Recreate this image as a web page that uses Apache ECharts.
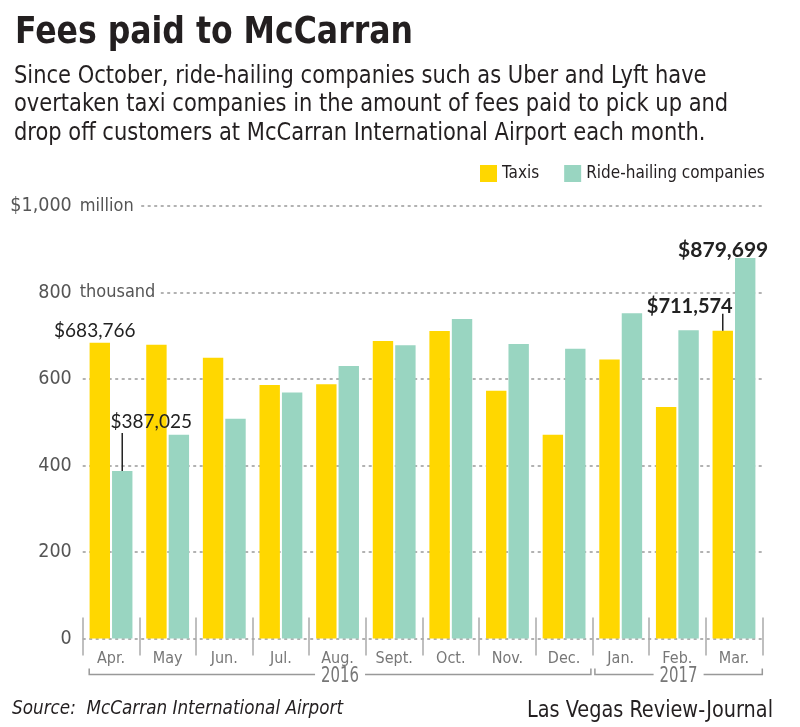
<!DOCTYPE html>
<html>
<head>
<meta charset="utf-8">
<script src="https://cdn.jsdelivr.net/npm/echarts@6/dist/echarts.min.js"></script>
<style>
  html, body { margin: 0; padding: 0; background: #fff; }
  #chart { width: 800px; height: 727px; }
</style>
</head>
<body>
<div id="chart"></div>
<script>
// ---- data ----
const months = ['Apr.', 'May', 'Jun.', 'Jul.', 'Aug.', 'Sept.', 'Oct.', 'Nov.', 'Dec.', 'Jan.', 'Feb.', 'Mar.'];
const years = ['2016', '2017'];
const yearMonthCounts = [9, 3];
const taxis = [683.766, 679, 649, 586, 588, 688, 711, 573, 471, 645, 535, 711.574];
const rideHailing = [387.025, 471, 508, 569, 630, 678, 739, 681, 670, 752, 713, 879.699];
const yTickLabels = { 0: '0', 200: '200', 400: '400', 600: '600', 800: '800', 1000: '$1,000' };
const yUnitLabels = { 800: 'thousand', 1000: 'million' };
const titleText = 'Fees paid to McCarran';
const subtitleLines = [
  'Since October, ride-hailing companies such as Uber and Lyft have',
  'overtaken taxi companies in the amount of fees paid to pick up and',
  'drop off customers at McCarran International Airport each month.'
];
const sourceText = 'Source:  McCarran International Airport';
const creditText = 'Las Vegas Review-Journal';

const COND = '"Liberation Sans Narrow", "DejaVu Sans Condensed", sans-serif';
const HUMAN = 'Lato, "Open Sans", sans-serif';
const YELLOW = '#FFD700';
const GREEN = '#99D5C1';
const INK = '#231f20';

function money(v) { return '$' + Math.round(v * 1000).toLocaleString('en-US'); }

// text width measuring (to condense the condensed face to the reference's widths)
const mctx = document.createElement('canvas').getContext('2d');
function textW(str, weight, style, size) {
  mctx.font = style + ' ' + weight + ' ' + size + 'px ' + COND;
  return mctx.measureText(str).width;
}
const titleScale = 398 / textW(titleText, 'bold', 'normal', 38);
const subTargets = [687, 707, 704];
const subScale = subtitleLines.reduce((s, l, i) => s + subTargets[i] / textW(l, 'normal', 'normal', 24), 0) / subtitleLines.length;
const sourceScale = 331 / textW(sourceText, 'normal', 'italic', 20);
const creditScale = 246 / textW(creditText, 'normal', 'normal', 23);
const yearScale = 38 / textW('2016', 'normal', 'normal', 21);

const taxiData = taxis.map(v => ({ value: v }));
const rideData = rideHailing.map(v => ({ value: v }));
taxiData[0].label = { show: true, position: 'top', distance: 2, offset: [-5, 0],
  formatter: () => money(taxis[0]), fontFamily: HUMAN, fontSize: 19, color: '#222' };
rideData[0].label = { show: true, position: 'top', distance: 40, offset: [29, 0],
  formatter: () => money(rideHailing[0]), fontFamily: HUMAN, fontSize: 19, color: '#222' };
taxiData[11].label = { show: true, position: 'top', distance: 14, offset: [-33, 0],
  formatter: () => money(taxis[11]), fontFamily: HUMAN, fontWeight: 'bold', fontSize: 20, color: '#222' };
rideData[11].label = { show: true, position: 'top', distance: -3, offset: [-22, 0],
  formatter: () => money(rideHailing[11]), fontFamily: HUMAN, fontWeight: 'bold', fontSize: 21, color: '#222' };

const chart = echarts.init(document.getElementById('chart'), null, { renderer: 'canvas' });

const option = {
  backgroundColor: '#fff',
  animation: false,
  legend: {
    left: 475, top: 160,
    itemWidth: 17, itemHeight: 17, itemGap: 25,
    icon: 'rect',
    textStyle: { fontFamily: COND, fontSize: 17, color: INK },
    data: ['Taxis', 'Ride-hailing companies']
  },
  grid: { left: 82.7, right: 37.7, top: 206, bottom: 88.5, containLabel: false },
  xAxis: [
    { type: 'category', data: months, position: 'bottom',
      axisLine: { show: false },
      axisTick: { show: true, alignWithLabel: false, length: 17, lineStyle: { color: '#aaa', width: 1.5 } },
      axisLabel: { fontFamily: COND, fontSize: 16, color: '#777', margin: 12 } },
    { type: 'category', data: months, position: 'bottom',
      axisLine: { show: false },
      axisTick: { show: true, inside: true, alignWithLabel: false, length: 21, lineStyle: { color: '#aaa', width: 1.5 } },
      axisLabel: { show: false } }
  ],
  yAxis: [
    { type: 'value', min: 0, max: 1000, interval: 200,
      axisLine: { show: false }, axisTick: { show: false },
      axisLabel: { margin: 11, fontFamily: COND, fontSize: 19.5, color: '#555',
        formatter: v => yTickLabels[v] !== undefined ? yTickLabels[v] : '' },
      splitLine: { show: true, lineStyle: { color: '#999', width: 1.5, type: [3, 3.5] } } },
    { type: 'value', min: 0, max: 1000, interval: 200, position: 'left', z: 3,
      axisLine: { show: false }, axisTick: { show: false }, splitLine: { show: false },
      axisLabel: { inside: true, margin: -6, fontFamily: COND, fontSize: 18, color: '#555',
        backgroundColor: '#fff', padding: [0, 5, 0, 3],
        formatter: v => yUnitLabels[v] || '' } }
  ],
  series: [
    { name: 'Taxis', type: 'bar', xAxisIndex: 0, yAxisIndex: 0, data: taxiData,
      barWidth: 20.4, barGap: '10%', itemStyle: { color: YELLOW } },
    { name: 'Ride-hailing companies', type: 'bar', xAxisIndex: 0, yAxisIndex: 0, data: rideData,
      barWidth: 20.4, barGap: '10%', itemStyle: { color: GREEN } }
  ]
};
chart.setOption(option);

function addGraphics() {
  const g = [];
  // headline texts
  g.push({ type: 'text', x: 15, y: 33, scaleX: titleScale,
    style: { text: titleText, fontFamily: COND, fontWeight: 'bold', fontSize: 38, fill: INK, verticalAlign: 'middle' } });
  g.push({ type: 'text', x: 14, y: 62.5, scaleX: subScale,
    style: { text: subtitleLines.join('\n'), fontFamily: COND, fontSize: 24, lineHeight: 28.5, fill: INK, verticalAlign: 'top' } });
  g.push({ type: 'text', x: 12, y: 709, scaleX: sourceScale,
    style: { text: sourceText, fontFamily: COND, fontStyle: 'italic', fontSize: 20, fill: INK, verticalAlign: 'middle' } });
  g.push({ type: 'text', x: 773, y: 711, scaleX: creditScale,
    style: { text: creditText, fontFamily: COND, fontSize: 23, fill: INK, align: 'right', verticalAlign: 'middle' } });

  // leader lines from the bar layouts
  const layoutOf = (si, di) => chart.getModel().getSeriesByIndex(si).getData().getItemLayout(di);
  const leader = (si, di, len) => {
    const l = layoutOf(si, di);
    const cx = l.x + l.width / 2;
    const top = l.y + Math.min(l.height, 0);
    g.push({ type: 'line', shape: { x1: cx, y1: top, x2: cx, y2: top - len },
      style: { stroke: '#222', lineWidth: 1.5 }, z: 10 });
  };
  leader(1, 0, 38);
  leader(0, 11, 17);

  // year brackets under the month axis
  const c0 = chart.convertToPixel({ xAxisIndex: 0 }, months[0]);
  const c1 = chart.convertToPixel({ xAxisIndex: 0 }, months[1]);
  const band = c1 - c0;
  const b0 = c0 - band / 2;
  const yBase = chart.convertToPixel({ yAxisIndex: 0 }, 0);
  const yLine = yBase + 36;
  let start = 0;
  years.forEach((yr, k) => {
    const n = yearMonthCounts[k];
    let xa = b0 + start * band;
    let xb = b0 + (start + n) * band;
    if (k === 0) { xa += 6.5; xb -= 1.5; } else { xa += 2.5; }
    const mid = (xa + xb) / 2;
    const gap = 25;
    const stroke = { stroke: '#999', lineWidth: 1.5, fill: null };
    g.push({ type: 'polyline', shape: { points: [[xa, yLine - 6], [xa, yLine], [mid - gap, yLine]] }, style: Object.assign({}, stroke) });
    g.push({ type: 'polyline', shape: { points: [[mid + gap, yLine], [xb, yLine], [xb, yLine - 6]] }, style: Object.assign({}, stroke) });
    g.push({ type: 'text', x: mid, y: yLine + 2, scaleX: yearScale,
      style: { text: yr, fontFamily: COND, fontSize: 21, fill: '#777', align: 'center', verticalAlign: 'middle' } });
    start += n;
  });
  chart.setOption({ graphic: g });
}
addGraphics();
</script>
</body>
</html>
